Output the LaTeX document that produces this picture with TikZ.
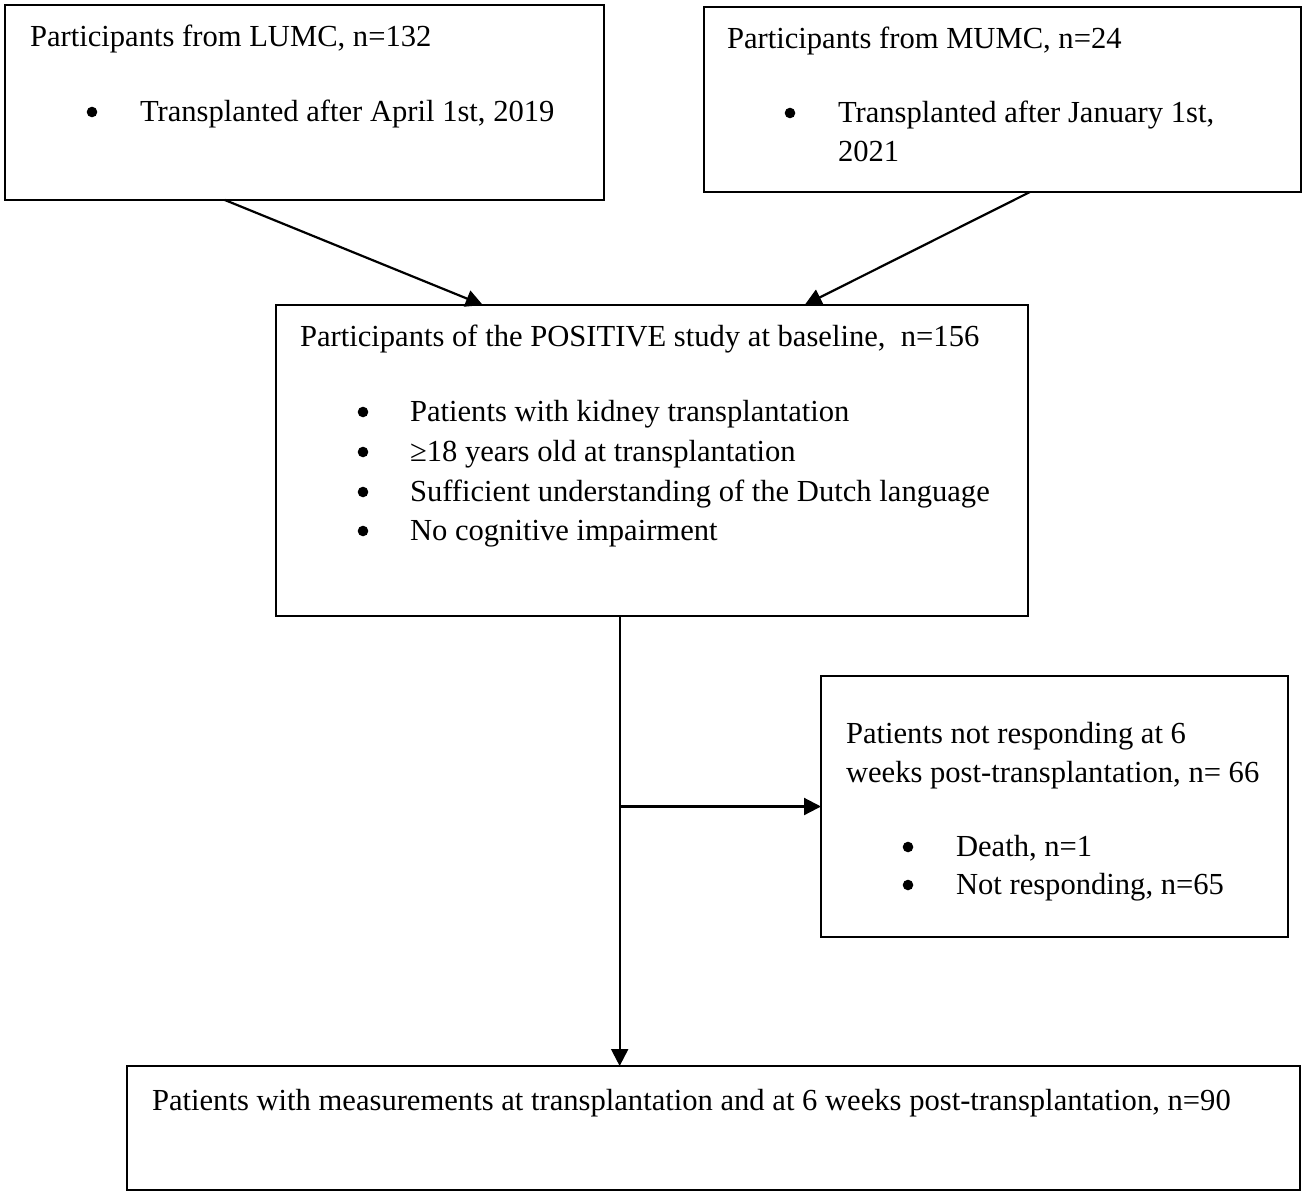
\documentclass[tikz,border=0pt]{standalone}
\usepackage{fontspec}
\setmainfont{Liberation Serif}
\usetikzlibrary{arrows.meta,calc}
\begin{document}
\begin{tikzpicture}[x=0.5pt,y=-0.5pt,
  box/.style={draw=black,line width=1.2pt,inner sep=0pt,outer sep=0pt,rectangle},
  txt/.style={anchor=base west,inner sep=0pt,outer sep=0pt,font=\fontsize{15.3pt}{20pt}\selectfont},
  bul/.style={circle,fill=black,inner sep=0pt,outer sep=0pt,minimum size=5.3pt},
  arr/.style={line width=1.1pt,-{Triangle[length=8.5pt,width=8.5pt]}}]
\useasboundingbox (0,0) rectangle (1306,1195);
\fill[white] (0,0) rectangle (1306,1195);
% boxes
\node[box,minimum width=299.5pt,minimum height=97.5pt] (lumc) at (304.5,102.5) {};
\node[box,minimum width=298.5pt,minimum height=92.5pt] (mumc) at (1002.5,99.5) {};
\node[box,minimum width=376pt,minimum height=155.5pt] (pos) at (652,460.5) {};
\node[box,minimum width=233.5pt,minimum height=130.5pt] (nr) at (1054.5,806.5) {};
\node[box,minimum width=586.5pt,minimum height=62pt] (bot) at (713.5,1128) {};
% texts LUMC
\node[txt] (t1) at (30,46) {Participants from LUMC, n=132};
\node[bul] (b1) at (92,112) {};
\node[txt] (t2) at (140,121) {Transplanted after April 1st, 2019};
% texts MUMC
\node[txt] (t3) at (727,48) {Participants from MUMC, n=24};
\node[bul] (b2) at (790,113) {};
\node[txt] (t4) at (838,122) {Transplanted after January 1st,};
\node[txt] (t5) at (838,161) {2021};
% texts POSITIVE
\node[txt] (t6) at (300,346) {Participants of the POSITIVE study at baseline,\ \ n=156};
\node[bul] (b3) at (363,412) {};
\node[bul] (b4) at (363,452) {};
\node[bul] (b5) at (363,492) {};
\node[bul] (b6) at (363,531) {};
\node[txt] (t7) at (410,421) {Patients with kidney transplantation};
\node[txt] (t8) at (410,461) {≥18 years old at transplantation};
\node[txt] (t9) at (410,501) {Sufficient understanding of the Dutch language};
\node[txt] (t10) at (410,540) {No cognitive impairment};
% texts not responding
\node[txt] (t11) at (846,743) {Patients not responding at 6};
\node[txt] (t12) at (846,782) {weeks post-transplantation, n= 66};
\node[bul] (b7) at (908,847) {};
\node[bul] (b8) at (908,885) {};
\node[txt] (t13) at (956,856) {Death, n=1};
\node[txt] (t14) at (956,894) {Not responding, n=65};
% bottom
\node[txt] (t15) at (152,1110) {Patients with measurements at transplantation and at 6 weeks post-transplantation, n=90};
% connectors
\coordinate (s1) at ($(lumc.south west)!0.367!(lumc.south east)$);
\coordinate (e1) at ($(pos.north west)!0.275!(pos.north east)$);
\coordinate (s2) at ($(mumc.south west)!0.546!(mumc.south east)$);
\coordinate (e2) at ($(pos.north west)!0.703!(pos.north east)$);
\coordinate (v) at ($(pos.south west)!0.457!(pos.south east)$);
\coordinate (j) at (v |- nr.west);
\draw[arr] (s1) -- (e1);
\draw[arr] (s2) -- (e2);
\draw[arr] (v) -- (v |- bot.north);
\draw[arr] (j) -- (nr.west);
\end{tikzpicture}
\end{document}
